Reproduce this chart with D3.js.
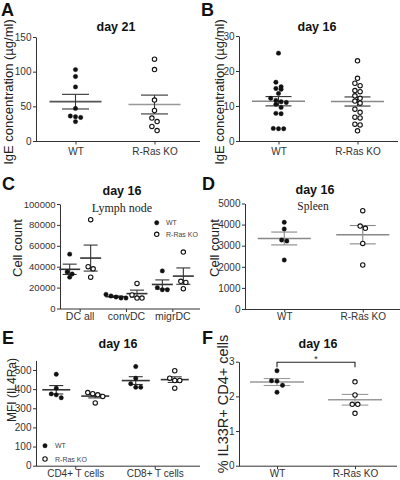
<!DOCTYPE html>
<html><head><meta charset="utf-8">
<script src="https://cdn.jsdelivr.net/npm/d3@7"></script>
<style>body{margin:0;background:#fff}svg{display:block}</style>
</head><body>
<svg id="chart" width="400" height="480"></svg>
<script>
// ---------- DATA ----------
// Panel A: IgE day 21
const aCategories = ["WT", "R-Ras KO"];
const aWT = [103, 93, 78, 47, 36, 35, 34, 28];
const aKO = [118, 103, 59, 44, 33, 28, 21, 15];
const aTicks = [0, 50, 100, 150];
// Panel B: IgE day 16
const bCategories = ["WT", "R-Ras KO"];
const bWT = [25.1, 16.8, 15.5, 15.0, 14.8, 13.6, 12.2, 11.6, 11.2, 11.0, 10.5, 9.6, 7.9, 7.8, 3.6, 3.5, 3.5];
const bKO = [22.9, 17.9, 16.5, 15.8, 14.4, 14.1, 12.9, 12.2, 11.4, 10.8, 9.1, 8.2, 6.8, 6.6, 4.8, 4.6, 2.9];
const bTicks = [0, 10, 20, 30];
// Panel C: Lymph node cell count
const cGroups = ["DC all", "convDC", "migrDC"];
const cWT = [[52000, 35000, 33000, 30000], [13500, 12000, 11000, 10000, 10000], [36000, 20000, 18000, 18000]];
const cKO = [[85000, 40000, 38000, 30000], [24000, 13000, 10000, 10000], [54000, 26000, 25000, 19000]];
const cTicks = [0, 20000, 40000, 60000, 80000, 100000];
// Panel D: Spleen cell count
const dCategories = ["WT", "R-Ras KO"];
const dWT = [4110, 3790, 3270, 3220, 2320];
const dKO = [4660, 3930, 3825, 3110, 2085];
const dTicks = [0, 1000, 2000, 3000, 4000, 5000];
// Panel E: MFI (IL4Ra)
const eGroups = ["CD4+ T cells", "CD8+ T cells"];
const eWT = [[478, 405, 375, 370, 355], [518, 457, 428, 410, 410]];
const eKO = [[382, 376, 370, 362, 328], [496, 457, 445, 445, 405]];
const eTicks = [0, 100, 200, 300, 400, 500];
// Panel F: % IL33R+ CD4+ cells
const fCategories = ["WT", "R-Ras KO"];
const fWT = [2.74, 2.45, 2.44, 2.32, 2.12];
const fKO = [2.42, 2.04, 1.77, 1.77, 1.51];
const fTicks = [0, 1, 2, 3];
const legendLabels = ["WT", "R-Ras KO"];

// ---------- DRAWING ----------
const svg = d3.select("#chart");
const FONT = "'Liberation Sans', Arial, Helvetica, sans-serif";
const SERIF = "'Liberation Serif', 'Times New Roman', serif";
const INK = "#333";

function styleAxis(ax, fs) {
  ax.select(".domain").attr("stroke", INK).attr("stroke-width", 1);
  ax.selectAll(".tick line").attr("stroke", INK);
  ax.selectAll(".tick text").attr("fill", INK).style("font-family", FONT).style("font-size", fs + "px");
}

function dodge(values, y, cx, spacing, thresh) {
  const pts = values.map(v => ({ v, py: y(v) })).sort((a, b) => a.py - b.py);
  const out = [];
  let i = 0;
  while (i < pts.length) {
    let j = i;
    while (j + 1 < pts.length && pts[j + 1].py - pts[i].py < thresh) j++;
    const n = j - i + 1;
    for (let k = 0; k < n; k++) out.push({ v: pts[i + k].v, px: cx + (k - (n - 1) / 2) * spacing, py: pts[i + k].py });
    i = j + 1;
  }
  return out;
}

function drawSeries(g, s, y, st) {
  const m = d3.mean(s.values);
  const se = d3.deviation(s.values) / Math.sqrt(s.values.length);
  const cx = s.cx;
  g.append("line").attr("x1", cx - st.meanHalf).attr("x2", cx + st.meanHalf)
    .attr("y1", y(m)).attr("y2", y(m)).attr("stroke", s.meanColor || st.meanColor).attr("stroke-width", 1.6);
  g.append("line").attr("x1", cx).attr("x2", cx).attr("y1", y(m + se)).attr("y2", y(m - se))
    .attr("stroke", st.semColor).attr("stroke-width", 1.1);
  [m + se, m - se].forEach(v => {
    g.append("line").attr("x1", cx - st.semHalf).attr("x2", cx + st.semHalf)
      .attr("y1", y(v)).attr("y2", y(v)).attr("stroke", st.semColor).attr("stroke-width", 1.1);
  });
  const pts = dodge(s.values, y, cx, st.spacing || 5.2, st.thresh || 4.6);
  g.selectAll(null).data(pts).enter().append("circle")
    .attr("cx", d => d.px).attr("cy", d => d.py)
    .attr("r", 2.2)
    .attr("fill", s.filled ? "#111" : "#fff")
    .attr("stroke", "#111").attr("stroke-width", s.filled ? 0.4 : 1.1);
}

function drawPanel(p) {
  const g = svg.append("g");
  const y = d3.scaleLinear().domain(p.yDomain).range([p.y0, p.y1]);
  const ya = g.append("g").attr("transform", `translate(${p.xLeft},0)`)
    .call(d3.axisLeft(y).tickValues(p.yTicks).tickSize(3).tickSizeOuter(0).tickPadding(1.5).tickFormat(d3.format("d")));
  styleAxis(ya, p.yFs || 10);
  g.append("line").attr("x1", p.xLeft).attr("x2", p.xRight)
    .attr("y1", y(0) + 0.5).attr("y2", y(0) + 0.5).attr("stroke", INK);
  const xa = g.append("g").attr("transform", `translate(0,${y(0) + 0.5})`)
    .call(d3.axisBottom(p.x).tickSize(3).tickSizeOuter(0).tickPadding(p.xPad));
  xa.select(".domain").remove();
  styleAxis(xa, p.xFs || 10);
  p.series.forEach(s => drawSeries(g, s, y, p.st));
  g.append("text").attr("x", p.letter[1]).attr("y", p.letter[2]).text(p.letter[0])
    .style("font-family", FONT).style("font-weight", "bold").style("font-size", "18px").attr("fill", "#111");
  g.append("text").attr("x", p.title[1]).attr("y", p.title[2]).attr("text-anchor", "middle").text(p.title[0])
    .style("font-family", FONT).style("font-weight", "bold").style("font-size", "12.5px").attr("fill", "#111");
  if (p.sub) {
    g.append("text").attr("x", p.sub[1]).attr("y", p.sub[2]).attr("text-anchor", "middle").text(p.sub[0])
      .style("font-family", SERIF).style("font-size", p.sub[3] + "px").attr("fill", "#222");
  }
  g.append("text").attr("transform", `translate(${p.ylab[1]},${p.ylab[2]}) rotate(-90)`)
    .attr("text-anchor", "middle").text(p.ylab[0])
    .style("font-family", FONT).style("font-size", p.ylab[3] + "px").attr("fill", "#222");
  return { g, y };
}

function legend(g, x, y0, dy, tx) {
  legendLabels.forEach((lab, i) => {
    g.append("circle").attr("cx", x).attr("cy", y0 + i * dy).attr("r", 2.2)
      .attr("fill", i === 0 ? "#111" : "#fff").attr("stroke", "#111").attr("stroke-width", i === 0 ? 0.4 : 1.1);
    g.append("text").attr("x", tx).attr("y", y0 + i * dy + 2.5).text(lab)
      .style("font-family", FONT).style("font-size", "7px").attr("fill", "#444");
  });
}

// Panel A
const xA = d3.scalePoint().domain(aCategories).range([36, 194]).padding(0.5);
drawPanel({
  yDomain: [0, 150], y0: 141, y1: 37, yTicks: aTicks, xLeft: 36, xRight: 200, x: xA, xPad: 3,
  series: [
    { cx: xA(aCategories[0]), values: aWT, filled: true, meanColor: "#555" },
    { cx: xA(aCategories[1]), values: aKO, filled: false, meanColor: "#999" }
  ],
  st: { meanHalf: 26, semHalf: 13.5, semColor: "#333", meanColor: "#888" },
  letter: ["A", 1, 16], title: ["day 21", 116, 31], ylab: ["IgE concentration (µg/ml)", 13, 92, 13]
});

// Panel B
const xB = d3.scalePoint().domain(bCategories).range([239, 397]).padding(0.5);
drawPanel({
  yDomain: [0, 30], y0: 141, y1: 36, yTicks: bTicks, xLeft: 239, xRight: 398, x: xB, xPad: 3,
  series: [
    { cx: xB(bCategories[0]), values: bWT, filled: true },
    { cx: xB(bCategories[1]), values: bKO, filled: false }
  ],
  st: { meanHalf: 26.5, semHalf: 13, semColor: "#333", meanColor: "#888" },
  letter: ["B", 201, 16], title: ["day 16", 317, 31], ylab: ["IgE concentration (µg/ml)", 224, 92, 13]
});

// Panel C
const xC = d3.scaleBand().domain(cGroups).range([57, 196]);
const pc = drawPanel({
  yDomain: [0, 100000], y0: 308.5, y1: 204, yTicks: cTicks, xLeft: 60, xRight: 200, x: xC, xPad: 1,
  yFs: 9.5, xFs: 10.5,
  series: cGroups.flatMap((grp, i) => [
    { cx: xC(grp) + xC.bandwidth() / 2 - 10.5, values: cWT[i], filled: true },
    { cx: xC(grp) + xC.bandwidth() / 2 + 10.5, values: cKO[i], filled: false }
  ]),
  st: { meanHalf: 10.5, semHalf: 7, semColor: "#333", meanColor: "#333", spacing: 5, thresh: 4.6 },
  letter: ["C", 2, 190], title: ["day 16", 122, 194.5], sub: ["Lymph node", 122, 211.5, 12],
  ylab: ["Cell count", 22, 248, 13]
});
legend(pc.g, 156.7, 222.7, 11.6, 166);

// Panel D
const xD = d3.scalePoint().domain(dCategories).range([245, 402]).padding(0.5);
drawPanel({
  yDomain: [0, 5000], y0: 309, y1: 203.5, yTicks: dTicks, xLeft: 245, xRight: 400, x: xD, xPad: 0.5,
  series: [
    { cx: xD(dCategories[0]), values: dWT, filled: true },
    { cx: xD(dCategories[1]), values: dKO, filled: false }
  ],
  st: { meanHalf: 26.5, semHalf: 13, semColor: "#888", meanColor: "#888" },
  letter: ["D", 202, 190], title: ["day 16", 315, 194], sub: ["Spleen", 313, 209.5, 11.5],
  ylab: ["Cell count", 219, 248, 13]
});

// Panel E
const xE = d3.scaleBand().domain(eGroups).range([36, 195]);
const pe = drawPanel({
  yDomain: [0, 550], y0: 465.7, y1: 360.4, yTicks: eTicks, xLeft: 36, xRight: 200, x: xE, xPad: 0.5,
  series: eGroups.flatMap((grp, i) => [
    { cx: xE(grp) + xE.bandwidth() / 2 - 19.5, values: eWT[i], filled: true },
    { cx: xE(grp) + xE.bandwidth() / 2 + 19.5, values: eKO[i], filled: false }
  ]),
  st: { meanHalf: 14, semHalf: 7, semColor: "#333", meanColor: "#333", spacing: 5, thresh: 4.6 },
  letter: ["E", 2, 344], title: ["day 16", 118, 348], ylab: ["MFI (IL4Ra)", 15.5, 390, 12]
});
legend(pe.g, 45, 445.7, 13.3, 55);

// Panel F
const xF = d3.scalePoint().domain(fCategories).range([238, 394]).padding(0.5);
const pf = drawPanel({
  yDomain: [0, 3], y0: 465.7, y1: 361.7, yTicks: fTicks, xLeft: 239, xRight: 397, x: xF, xPad: 1,
  series: [
    { cx: xF(fCategories[0]), values: fWT, filled: true },
    { cx: xF(fCategories[1]), values: fKO, filled: false }
  ],
  st: { meanHalf: 27, semHalf: 13.3, semColor: "#999", meanColor: "#999", spacing: 5.5, thresh: 4.6 },
  letter: ["F", 202, 344], title: ["day 16", 318, 348], ylab: ["% IL33R+ CD4+ cells", 227.5, 404, 14.5]
});
{
  const by = pf.y(3) + 0.5;
  const x1 = xF(fCategories[0]), x2 = xF(fCategories[1]);
  pf.g.append("path").attr("d", `M${x1},${by + 5}V${by}H${x2}V${by + 5}`)
    .attr("fill", "none").attr("stroke", "#222").attr("stroke-width", 1.1);
  pf.g.append("text").attr("x", (x1 + x2) / 2).attr("y", by - 0.5).attr("text-anchor", "middle").text("*")
    .style("font-family", FONT).style("font-size", "9px").attr("fill", "#222");
}
</script>
</body></html>
